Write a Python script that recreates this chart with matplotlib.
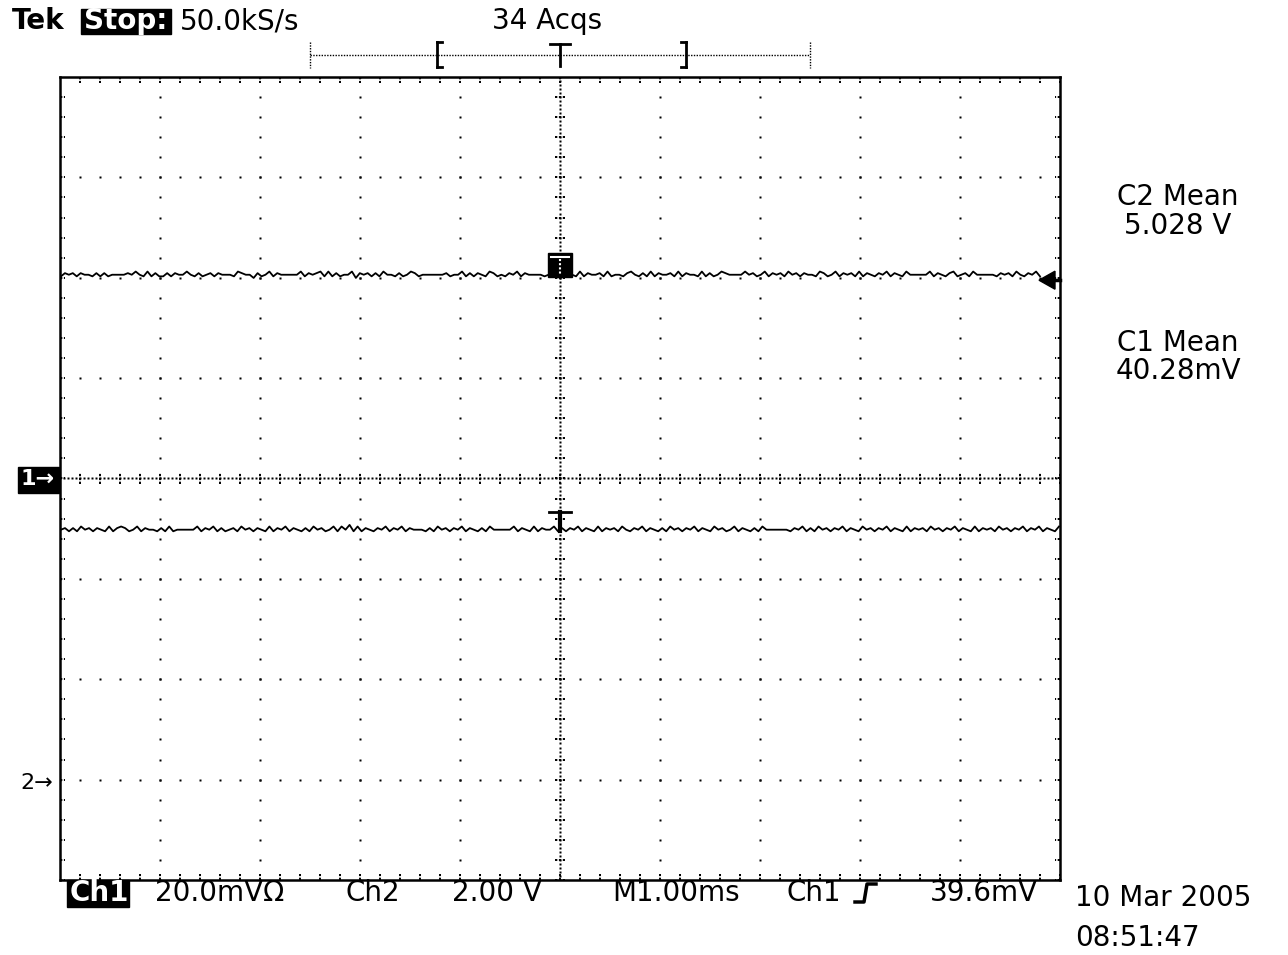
import numpy as np
import matplotlib.pyplot as plt
from matplotlib.patches import Rectangle, Polygon

# ---------------------------------------------------------------------------
# Scope readout (values in divisions, noise in trace pixels read by eye)
# ---------------------------------------------------------------------------

ch2_level = 2.03      # div above centre
ch1_level = -0.51     # div below centre
ch1_marker = 0.0      # "1->" ground marker
ch2_marker = -3.03    # "2->" ground marker

ch2_noise = [int(c) - 3 for c in (
    "24342433242423333435325242242433532423424333254331"
    "42352433333524345252423351434242533242354233333342"
    "33524243254232435243333233425432524334252332453242"
    "52433425243325242354333353423524342534243325423524"
    "34252432435243253333352432452342533333243425324352")]
ch1_noise = [int(c) - 3 for c in (
    "34242534243252454235243324252333335243524234253424"
    "32524352432425342352536252432435243524333242534243"
    "52432425333335243252433524243524325243425324352432"
    "42534243524325342352432425333333243524253424352432"
    "53424352432524342534243524325243425342435243524325")]

top_left = "50.0kS/s"
acqs = "34 Acqs"
bottom_labels = [("20.0mV\u03a9", 155), ("Ch2", 346), ("2.00 V", 452),
                 ("M1.00ms", 612), ("Ch1", 787), ("39.6mV", 930)]
measurements = [("C2 Mean", 197), ("5.028 V", 226),
                ("C1 Mean", 343), ("40.28mV", 371)]
date_str = "10 Mar 2005"
time_str = "08:51:47"

W, H = 1288, 955
PX_PER_DIV = 100.4
FS = 20

plt.rcParams['font.family'] = ['DejaVu Sans']

fig = plt.figure(figsize=(W / 100, H / 100), dpi=100)
fig.patch.set_facecolor("white")

# main graticule, in divisions
ax = fig.add_axes([60 / W, (H - 880) / H, 1000 / W, 803 / H])
ax.set_xlim(-5, 5)
ax.set_ylim(-4, 4)
ax.set_xticks([])
ax.set_yticks([])
for s in ax.spines.values():
    s.set_linewidth(1.8)
    s.set_color("black")

dot = dict(ls="none", marker="s", ms=1.8, color="black", mec="none")
minor = np.arange(-5, 5.01, 0.2)
minor_y = np.arange(-4, 4.01, 0.2)
for gx in range(-4, 5):
    if gx != 0:
        ax.plot(np.full_like(minor_y, gx), minor_y, **dot)
for gy in range(-3, 4):
    if gy != 0:
        ax.plot(minor, np.full_like(minor, gy), **dot)

# centre lines: dense dots and small ticks
dense_x = np.arange(-5, 5.001, 0.04)
dense_y = np.arange(-4, 4.001, 0.04)
ax.plot(dense_x, np.zeros_like(dense_x), **dot)
ax.plot(np.zeros_like(dense_y), dense_y, **dot)
tick = dict(color="black", lw=1.4, ls=(0, (1.2, 0.8)))
for mx in minor:
    ax.plot([mx, mx], [-0.055, 0.055], **tick)
for my in minor_y:
    ax.plot([-0.05, 0.05], [my, my], **tick)

# border ticks
for mx in minor:
    ax.plot([mx, mx], [-4, -3.94], **tick)
    ax.plot([mx, mx], [4, 3.94], **tick)
for my in minor_y:
    ax.plot([-5, -4.95], [my, my], **tick)
    ax.plot([5, 4.95], [my, my], **tick)

# traces
t2 = np.linspace(-4.99, 4.8, len(ch2_noise))
t1 = np.linspace(-4.99, 4.99, len(ch1_noise))
ax.plot(t2, ch2_level + np.array(ch2_noise) * 1.6 / PX_PER_DIV,
        color="black", lw=1.3)
ax.plot(t1, ch1_level + np.array(ch1_noise) * 1.6 / PX_PER_DIV,
        color="black", lw=1.3)

# overlay in pixel coordinates
ov = fig.add_axes([0, 0, 1, 1], facecolor="none")
ov.set_xlim(0, W)
ov.set_ylim(H, 0)
ov.axis("off")

def y_px(div):
    return 479 - div * PX_PER_DIV

# header
ov.text(12, 21, "Tek", fontsize=FS, fontweight="bold", va="center", ha="left")
ov.add_patch(Rectangle((81, 9), 90, 25, color="black"))
ov.text(84, 21, "Stop:", fontsize=FS, fontweight="bold", color="white",
        va="center", ha="left")
ov.text(180, 21, top_left, fontsize=FS, va="center", ha="left")
ov.text(547, 21, acqs, fontsize=FS, va="center", ha="center")

# record bar
ov.plot([310, 810], [55, 55], color="black", lw=1.0, ls=(0, (1, 1)))
for bx in (310, 810):
    ov.plot([bx, bx], [42, 68], color="black", lw=1.0, ls=(0, (1, 1)))
ov.plot([437, 437], [42, 67], color="black", lw=2)
ov.plot([437, 442], [42, 42], color="black", lw=2)
ov.plot([437, 442], [67, 67], color="black", lw=2)
ov.plot([686, 686], [42, 67], color="black", lw=2)
ov.plot([681, 686], [42, 42], color="black", lw=2)
ov.plot([681, 686], [67, 67], color="black", lw=2)
ov.plot([550, 570], [44, 44], color="black", lw=2)
ov.plot([560, 560], [44, 66], color="black", lw=2)

# trigger marker on ch2
ov.add_patch(Rectangle((548, 253), 24, 24, color="black"))
ov.plot([551, 569], [257, 257], color="white", lw=1.5)
ov.plot([560, 560], [259, 274], color="white", lw=1.5, ls=(0, (1, 1)))

# trigger level marker on ch1
ov.plot([549, 571], [512, 512], color="black", lw=2)
ov.plot([560, 560], [512, 531], color="black", lw=3)

# right-hand trigger arrow
ay = y_px(ch2_level) + 5
ov.add_patch(Polygon([[1039, ay], [1055, ay - 9], [1055, ay + 9]],
                     closed=True, color="black"))
ov.plot([1050, 1060], [ay, ay], color="black", lw=2.5)

# channel ground markers
ov.add_patch(Rectangle((18, 467), 41, 26, color="black"))
ov.text(21, y_px(ch1_marker), "1\u2192", fontsize=16, color="white",
        fontweight="bold", va="center", ha="left")
ov.text(20, y_px(ch2_marker), "2\u2192", fontsize=16,
        va="center", ha="left")

# measurements
for label, yy in measurements:
    ov.text(1178, yy, label, fontsize=FS, va="center", ha="center")

# bottom readout
ov.add_patch(Rectangle((67, 880), 62, 27, color="black"))
ov.text(70, 893, "Ch1", fontsize=FS, color="white", fontweight="bold",
        va="center", ha="left")
for label, xx in bottom_labels:
    ov.text(xx, 893, label, fontsize=FS, va="center", ha="left")
# rising-edge trigger symbol
ov.plot([855, 864, 867, 876], [902, 902, 884, 884], color="black", lw=2.5)

ov.text(1075, 898, date_str, fontsize=FS, va="center", ha="left")
ov.text(1075, 938, time_str, fontsize=FS, va="center", ha="left")

fig.savefig("out.png", dpi=100, facecolor="white")
